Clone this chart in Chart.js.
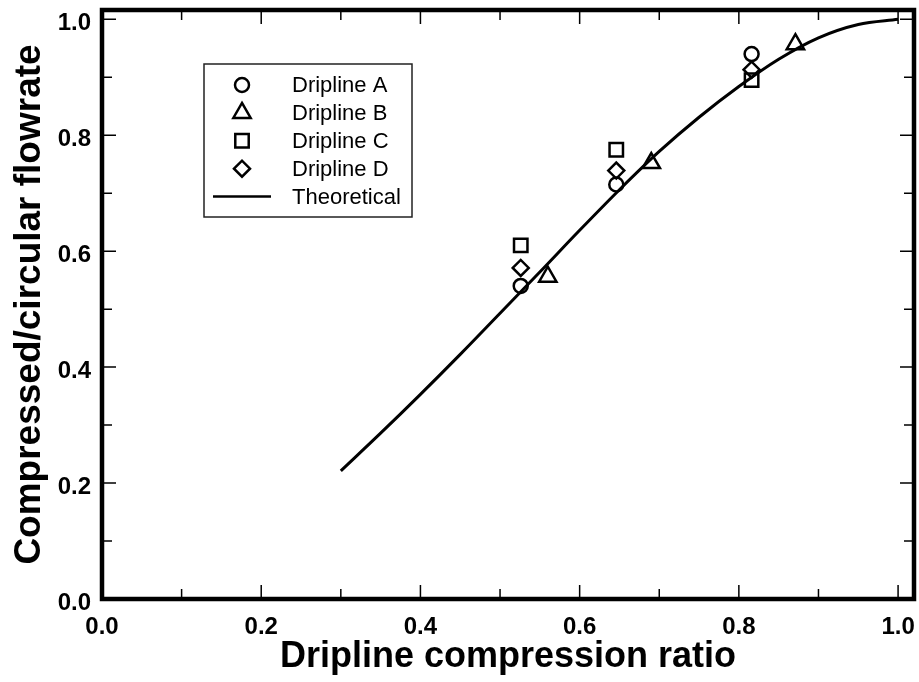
<!DOCTYPE html>
<html>
<head>
<meta charset="utf-8">
<script src="https://cdn.jsdelivr.net/npm/chart.js@4.4.1/dist/chart.umd.min.js"></script>
<style>
  html, body { margin: 0; padding: 0; background: #fff; }
  #wrap { width: 919px; height: 682px; }
</style>
</head>
<body>
<div id="wrap"><canvas id="myChart" width="919" height="682"></canvas></div>
<script>
// measured points (compression ratio, compressed/circular flowrate)
var ratioA = [0.526, 0.646, 0.816];
var flowA  = [0.540, 0.715, 0.940];
var ratioB = [0.560, 0.690, 0.871];
var flowB  = [0.556, 0.752, 0.957];
var ratioC = [0.526, 0.646, 0.816];
var flowC  = [0.610, 0.775, 0.895];
var ratioD = [0.526, 0.646, 0.816];
var flowD  = [0.571, 0.739, 0.913];

// theoretical curve
var theoRatio = [0.30, 0.35, 0.40, 0.45, 0.50, 0.55, 0.60, 0.65, 0.70, 0.75, 0.80, 0.85, 0.90, 0.95, 1.00];
var theoFlow  = [0.221, 0.286, 0.353, 0.422, 0.493, 0.564, 0.636, 0.706, 0.772, 0.831, 0.884, 0.931, 0.968, 0.991, 1.000];

var seriesNames = ['Dripline A', 'Dripline B', 'Dripline C', 'Dripline D', 'Theoretical'];
var majorTicks = [0.0, 0.2, 0.4, 0.6, 0.8, 1.0];
var minorTicks = [0.1, 0.3, 0.5, 0.7, 0.9];

function toPoints(xs, ys) {
    var pts = [];
    for (var i = 0; i < xs.length; i++) {
        pts.push({ x: xs[i], y: ys[i] });
    }
    return pts;
}

function markerSet(label, xs, ys, style, radius) {
    return {
        type: 'scatter',
        label: label,
        data: toPoints(xs, ys),
        pointStyle: style,
        pointRadius: radius,
        pointHoverRadius: radius,
        pointBorderWidth: 2.5,
        pointBorderColor: '#000',
        pointBackgroundColor: 'rgba(0,0,0,0)',
        showLine: false
    };
}

function drawMarker(ctx, style, radius, x, y) {
    ctx.lineWidth = 2.5;
    ctx.strokeStyle = '#000';
    ctx.fillStyle = 'rgba(0,0,0,0)';
    Chart.helpers.drawPoint(ctx, { pointStyle: style, radius: radius, borderWidth: 2.5, rotation: 0 }, x, y);
}

// box round the plot with inward ticks on all four sides
const frameTicks = {
    id: 'frameTicks',
    afterDatasetsDraw(chart) {
        const ctx = chart.ctx;
        const a = chart.chartArea;
        const xs = chart.scales.x;
        const ys = chart.scales.y;
        ctx.save();
        ctx.strokeStyle = '#000';
        ctx.lineWidth = 1.5;
        ctx.beginPath();
        function tick(v, len) {
            var px = xs.getPixelForValue(v);
            ctx.moveTo(px, a.bottom); ctx.lineTo(px, a.bottom - len);
            ctx.moveTo(px, a.top); ctx.lineTo(px, a.top + len);
            var py = ys.getPixelForValue(v);
            ctx.moveTo(a.left, py); ctx.lineTo(a.left + len, py);
            ctx.moveTo(a.right, py); ctx.lineTo(a.right - len, py);
        }
        majorTicks.forEach(function(v) { tick(v, 14); });
        minorTicks.forEach(function(v) { tick(v, 10); });
        ctx.stroke();
        ctx.lineWidth = 4.5;
        ctx.strokeRect(a.left, a.top, a.right - a.left, a.bottom - a.top);
        ctx.restore();
    }
};

// legend box inside the plot
const boxLegend = {
    id: 'boxLegend',
    afterDraw(chart) {
        const ctx = chart.ctx;
        const sets = chart.data.datasets;
        ctx.save();
        ctx.lineWidth = 1.5;
        ctx.strokeStyle = '#222';
        ctx.strokeRect(204, 64, 208, 153);
        ctx.font = '22px "Liberation Sans", Arial, sans-serif';
        ctx.textBaseline = 'middle';
        ctx.textAlign = 'left';
        for (var i = 0; i < sets.length; i++) {
            var yy = 85 + i * 27.9;
            if (sets[i].type === 'scatter') {
                drawMarker(ctx, sets[i].pointStyle, sets[i].pointRadius, 242, yy);
            } else {
                ctx.lineWidth = 2.5;
                ctx.strokeStyle = '#000';
                ctx.beginPath();
                ctx.moveTo(213, yy);
                ctx.lineTo(271, yy);
                ctx.stroke();
            }
            ctx.fillStyle = '#000';
            ctx.fillText(sets[i].label, 292, yy + 1);
        }
        ctx.restore();
    }
};

var tickFont = { family: '"Liberation Sans", Arial, sans-serif', size: 24, weight: 'bold' };
var titleFont = { family: '"Liberation Sans", Arial, sans-serif', weight: 'bold' };

const ctx = document.getElementById('myChart').getContext('2d');
const myChart = new Chart(ctx, {
    data: {
        datasets: [
            markerSet(seriesNames[0], ratioA, flowA, 'circle', 7),
            markerSet(seriesNames[1], ratioB, flowB, 'triangle', 10),
            markerSet(seriesNames[2], ratioC, flowC, 'rect', 9.5),
            markerSet(seriesNames[3], ratioD, flowD, 'rectRot', 8),
            {
                type: 'line',
                label: seriesNames[4],
                data: toPoints(theoRatio, theoFlow),
                borderColor: '#000',
                borderWidth: 3,
                pointRadius: 0,
                fill: false,
                cubicInterpolationMode: 'monotone'
            }
        ]
    },
    options: {
        responsive: false,
        animation: false,
        layout: {
            autoPadding: false,
            padding: { top: 10, right: 5, left: 0, bottom: 0 }
        },
        plugins: {
            legend: { display: false },
            tooltip: { enabled: false }
        },
        scales: {
            x: {
                type: 'linear',
                min: 0,
                max: 1.02,
                afterBuildTicks: function(s) {
                    s.ticks = majorTicks.map(function(v) { return { value: v }; });
                },
                afterFit: function(s) {
                    s.height = 83;
                    s.paddingLeft = 0;
                    s.paddingRight = 0;
                },
                // tick marks are drawn by frameTicks; tickLength only spaces the labels
                grid: { display: false, drawTicks: true, tickLength: 14 },
                border: { display: false },
                ticks: {
                    font: tickFont,
                    color: '#000',
                    padding: 0,
                    maxRotation: 0,
                    autoSkip: false,
                    callback: function(v) { return v.toFixed(1); }
                },
                title: {
                    display: true,
                    text: 'Dripline compression ratio',
                    color: '#000',
                    font: Object.assign({ size: 36 }, titleFont),
                    padding: { top: 0, bottom: 3 }
                }
            },
            y: {
                type: 'linear',
                min: 0,
                max: 1.016,
                afterBuildTicks: function(s) {
                    s.ticks = majorTicks.map(function(v) { return { value: v }; });
                },
                afterFit: function(s) {
                    s.width = 102;
                    s.paddingTop = 0;
                    s.paddingBottom = 0;
                },
                grid: { display: false, drawTicks: false },
                border: { display: false },
                ticks: {
                    font: tickFont,
                    color: '#000',
                    padding: 11,
                    labelOffset: 4,
                    autoSkip: false,
                    callback: function(v) { return v.toFixed(1); }
                },
                title: {
                    display: true,
                    text: 'Compressed/circular flowrate',
                    color: '#000',
                    font: Object.assign({ size: 37 }, titleFont),
                    padding: { top: 8, bottom: 0 }
                }
            }
        }
    },
    plugins: [frameTicks, boxLegend]
});
</script>
</body>
</html>
